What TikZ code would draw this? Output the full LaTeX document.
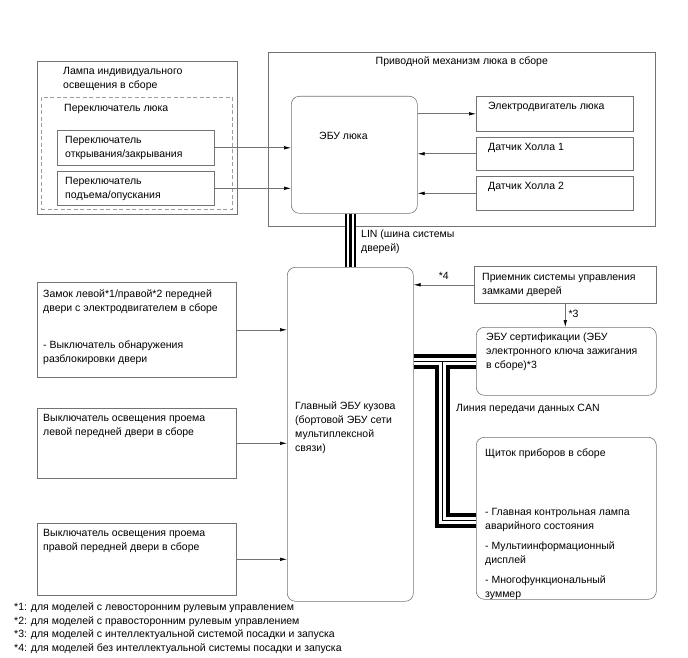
\documentclass[tikz,border=0pt]{standalone}
\usepackage{fontspec}
\setmainfont{Liberation Sans}
\usetikzlibrary{positioning,arrows.meta}
\definecolor{edge}{gray}{0.45}
\tikzset{
	box/.style={draw=edge, line width=0.6pt, rectangle, anchor=north west, inner sep=0pt},
	rbox/.style={box, rounded corners=8pt},
	dbox/.style={box, draw=edge!70, dash pattern=on 4pt off 2.5pt},
	txt/.style={inner sep=0pt, align=left, font=\fontsize{10.5}{14}\selectfont},
	arr/.style={-{Latex[length=7pt,width=3.5pt,color=black]}, draw=edge, line width=0.6pt}
}

\begin{document}
\begin{tikzpicture}[x=1pt, y=-1pt]
	\useasboundingbox (0,0) rectangle (688,658);

	% lamp assembly with sunroof switch
	\node[box, minimum width=200, minimum height=153] (lamp) at (37,61) {};
	\node[txt, below right=6pt and 26pt of lamp.north west] (lampt) {Лампа индивидуального\\освещения в сборе};
	\node[dbox, minimum width=191, minimum height=112] (swg) at (41,97) {};
	\node[txt, below right=7pt and 23pt of swg.north west] (swgt) {Переключатель люка};
	\node[box, minimum width=157, minimum height=35] (sw1) at (57,130) {};
	\node[txt, below right=6pt and 8pt of sw1.north west] (sw1t) {Переключатель\\открывания/закрывания};
	\node[box, minimum width=157, minimum height=34] (sw2) at (57,171) {};
	\node[txt, below right=6pt and 8pt of sw2.north west] (sw2t) {Переключатель\\подъема/опускания};

	% sunroof drive
	\node[box, minimum width=387, minimum height=174] (drv) at (268,52) {};
	\node[txt, below=5pt of drv.north] (drvt) {Приводной механизм люка в сборе};
	\node[rbox, minimum width=126, minimum height=117] (ecu) at (291,96) {};
	\node[txt, below right=36pt and 28pt of ecu.north west] (ecut) {ЭБУ люка};
	\node[box, minimum width=157, minimum height=35] (motor) at (476,96) {};
	\node[txt, below right=6pt and 12pt of motor.north west] (motort) {Электродвигатель люка};
	\node[box, minimum width=157, minimum height=33] (hall1) at (476,137) {};
	\node[txt, below right=6pt and 12pt of hall1.north west] (hall1t) {Датчик Холла 1};
	\node[box, minimum width=157, minimum height=34] (hall2) at (476,176) {};
	\node[txt, below right=6pt and 12pt of hall2.north west] (hall2t) {Датчик Холла 2};

	% main body ECU
	\node[rbox, minimum width=126, minimum height=334] (main) at (287,267) {};
	\node[txt, below right=135pt and 8pt of main.north west] (maint) {Главный ЭБУ кузова\\(бортовой ЭБУ сети\\мультиплексной\\связи)};

	% left side
	\node[box, minimum width=199, minimum height=95] (lock) at (37,282) {};
	\node[txt, below right=8pt and 6pt of lock.north west] (lockt) {Замок левой*1/правой*2 передней\\двери с электродвигателем в сборе\\[23pt]- Выключатель обнаружения\\разблокировки двери};
	\node[box, minimum width=199, minimum height=70] (cty1) at (37,408) {};
	\node[txt, below right=6pt and 6pt of cty1.north west] (cty1t) {Выключатель освещения проема\\левой передней двери в сборе};
	\node[box, minimum width=199, minimum height=72] (cty2) at (37,523) {};
	\node[txt, below right=6pt and 6pt of cty2.north west] (cty2t) {Выключатель освещения проема\\правой передней двери в сборе};

	% right side
	\node[box, minimum width=182, minimum height=37] (rcv) at (474,266) {};
	\node[txt, below right=7pt and 8pt of rcv.north west] (rcvt) {Приемник системы управления\\замками дверей};
	\node[rbox, minimum width=180, minimum height=68] (cert) at (476,327) {};
	\node[txt, below right=6pt and 10pt of cert.north west] (certt) {ЭБУ сертификации (ЭБУ\\электронного ключа зажигания\\в сборе)*3};
	\node[rbox, minimum width=180, minimum height=162] (ipc) at (476,437) {};
	\node[txt, below right=12pt and 9pt of ipc.north west] (ipct) {Щиток приборов в сборе};
	\node[txt, below right=71pt and 9pt of ipc.north west] (ipcl) {- Главная контрольная лампа\\аварийного состояния\\[6pt]- Мультиинформационный\\дисплей\\[6pt]- Многофункциональный\\зуммер};

	% signals
	\draw[arr] (sw1.east) -- (sw1.east -| ecu.west);
	\draw[arr] (sw2.east) -- (sw2.east -| ecu.west);
	\draw[arr] (motor.west -| ecu.east) -- (motor.west);
	\draw[arr] (hall1.west) -- (hall1.west -| ecu.east);
	\draw[arr] (hall2.west) -- (hall2.west -| ecu.east);
	\draw[arr] (lock.east) -- (lock.east -| main.west);
	\draw[arr] (cty1.east) -- (cty1.east -| main.west);
	\draw[arr] (cty2.east) -- (cty2.east -| main.west);
	\draw[arr] (rcv.west) -- node[txt, above=5pt, pos=0.5] (n4) {*4} (rcv.west -| main.east);
	\draw[arr] (rcv.south) -- node[txt, right=3pt, pos=0.45] (n3) {*3} (rcv.south |- cert.north);

	% LIN bus
	\foreach \w/\c in {11pt/black, 7pt/white, 3.5pt/black}
		\draw[line width=\w, \c] (main.north |- ecu.south) -- (main.north);
	\node[txt, anchor=north west] (lin) at (361,230) {LIN (шина системы\\дверей)};

	% CAN bus
	\coordinate (canj) at (442,0 |- cert.west);
	\coordinate (canb) at (442,520);
	\foreach \w/\c in {15pt/black, 7pt/white, 1pt/black}{
		\draw[line width=\w, \c] (main.east |- cert.west) -- (cert.west);
		\draw[line width=\w, \c] (canj) -- (canb) -- (canb -| ipc.west);
	}
	\node[txt, anchor=north west] (can) at (456,404) {Линия передачи данных CAN};

	% notes
	\node[txt, anchor=north west, font=\fontsize{10.5}{13.5}\selectfont] (notes) at (14,603) {*1: для моделей с левосторонним рулевым управлением\\*2: для моделей с правосторонним рулевым управлением\\*3: для моделей с интеллектуальной системой посадки и запуска\\*4: для моделей без интеллектуальной системы посадки и запуска};
\end{tikzpicture}
\end{document}
